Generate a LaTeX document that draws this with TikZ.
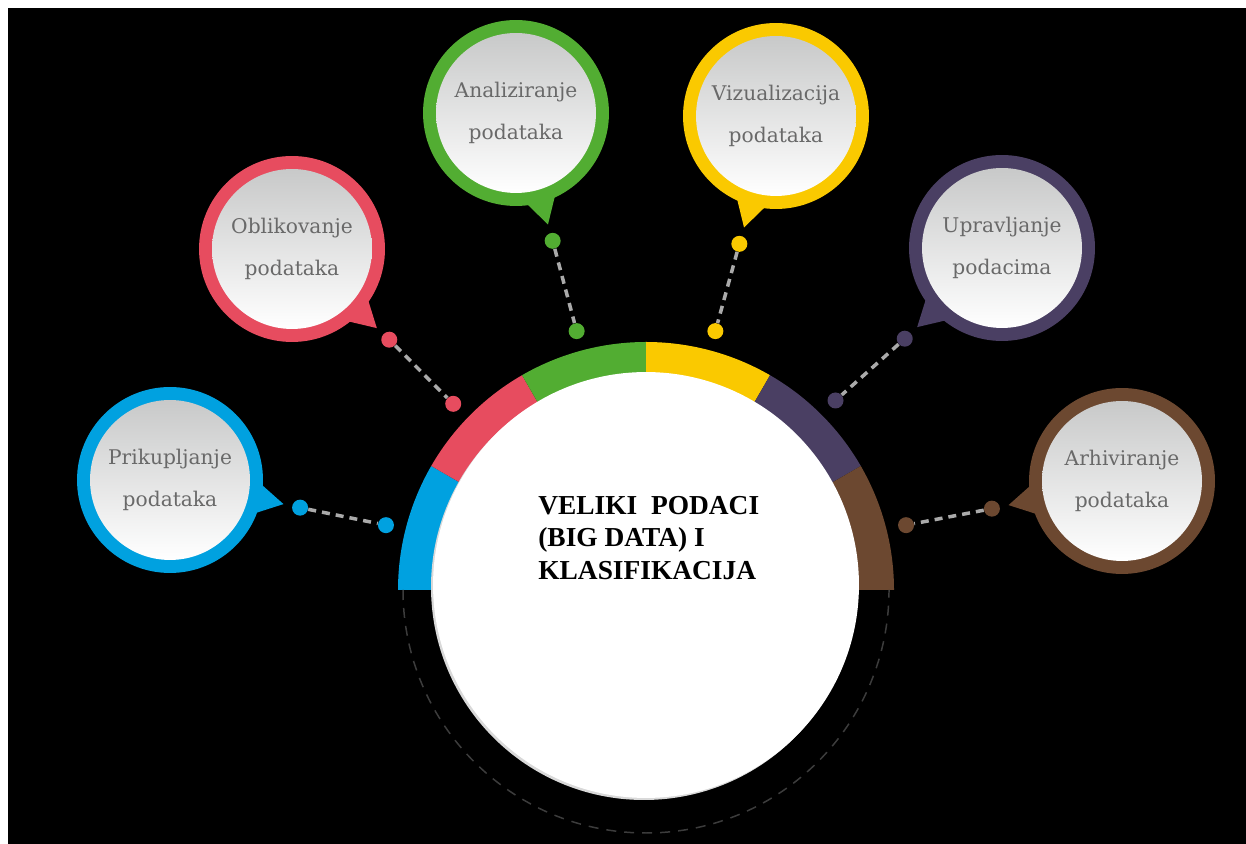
\documentclass[tikz,border=0pt]{standalone}
\usepackage{fontspec}
\newfontfamily\bubblefont{DejaVu Serif}
\newfontfamily\titlefont{Liberation Serif}
\definecolor{cblue}{RGB}{0,161,224}
\definecolor{cred}{RGB}{231,76,95}
\definecolor{cgreen}{RGB}{82,173,50}
\definecolor{cyellow}{RGB}{250,201,0}
\definecolor{cpurple}{RGB}{74,63,99}
\definecolor{cbrown}{RGB}{108,72,48}
\definecolor{txtgray}{RGB}{105,105,105}
\definecolor{linkgray}{RGB}{170,170,170}
\definecolor{topgray}{RGB}{200,201,201}
\definecolor{rimgray}{RGB}{60,60,60}
\tikzset{
	ring/.style={circle, minimum size=3.72cm, inner sep=0},
	face/.style={circle, minimum size=3.2cm, inner sep=0, top color=topgray, bottom color=white,
		text=txtgray, align=center, font={\bubblefont\fontsize{11.5}{24}\selectfont}},
	dot/.style={circle, minimum size=0.32cm, inner sep=0},
	link/.style={draw=linkgray, line width=2pt, dash pattern=on 0.16cm off 0.12cm}
}
\begin{document}
\begin{tikzpicture}[x=0.02cm, y=0.02cm]

\fill[white] (0, 0) rectangle (1246, 844);
\fill[black] (8, 0) rectangle (1246, 836);
\coordinate (hub) at (646, 254);

\foreach \c/\a in {cblue/150, cred/120, cgreen/90, cyellow/60, cpurple/30, cbrown/0}
\fill[\c] (hub) -- ++(\a:248) arc (\a:\a+30:248) -- cycle;
\draw[rimgray, line width=0.85pt, dash pattern=on 0.2cm off 0.16cm] (403, 254) arc (180:360:243);

\fill[gray!30] (644, 257) circle (213);
\node[circle, fill=white, minimum size=8.52cm, inner sep=0] (core) at (646, 259) {};
\node[anchor=west, inner sep=0, align=left, font={\titlefont\bfseries\fontsize{15.6}{18.7}\selectfont}]
	(title) at (538, 306) {VELIKI~ PODACI\\(BIG DATA) I\\KLASIFIKACIJA};

\foreach \n/\c/\x/\y/\a/\m/\top/\bot in {
	pri/cblue/170/364/-12/166/Prikupljanje/podataka,
	obl/cred/292/595/-43/136/Oblikovanje/podataka,
	ana/cgreen/516/731/-74/105/Analiziranje/podataka,
	viz/cyellow/776/728/-106/75/Vizualizacija/podataka,
	upr/cpurple/1002/596/-137/45/Upravljanje/podacima,
	arh/cbrown/1122/363/-168/14/Arhiviranje/podataka}
{
	\fill[\c] ([shift={(\a+10:90)}]\x, \y) -- ([shift={(\a:116)}]\x, \y) -- ([shift={(\a-10:90)}]\x, \y) -- cycle;
	\node[ring, fill=\c] (r\n) at (\x, \y) {};
	\node[face] (f\n) at (r\n) {\top\\\bot};
	\node[dot, fill=\c] (p\n) at ([shift={(\a:133)}]\x, \y) {};
	\node[dot, fill=\c] (q\n) at ([shift={(\m:268)}]hub) {};
	\draw[link] (p\n) -- (q\n);
}

\end{tikzpicture}
\end{document}
